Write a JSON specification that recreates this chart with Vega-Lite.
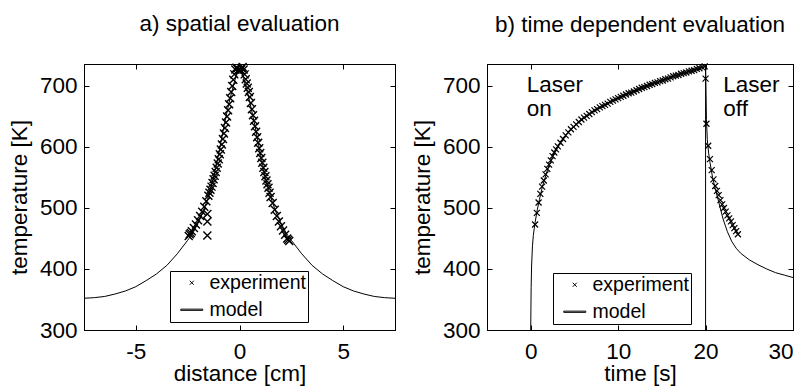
{
  "$schema": "https://vega.github.io/schema/vega-lite/v6.json",
  "padding": {"left": 7, "top": 12, "right": 0, "bottom": 0},
  "spacing": 12,
  "datasets": {
    "spatialModel": [
      {"x": -7.5, "T": 352}, {"x": -7, "T": 353}, {"x": -6.5, "T": 355}, {"x": -6, "T": 359}, {"x": -5.5, "T": 364}, {"x": -5, "T": 371}, {"x": -4.5, "T": 381}, {"x": -4, "T": 392}, {"x": -3.5, "T": 406}, {"x": -3, "T": 425}, {"x": -2.75, "T": 436}, {"x": -2.5, "T": 447}, {"x": -2.25, "T": 459}, {"x": -2, "T": 475}, {"x": -1.75, "T": 494}, {"x": -1.5, "T": 518}, {"x": -1.25, "T": 550}, {"x": -1, "T": 590}, {"x": -0.75, "T": 634}, {"x": -0.5, "T": 673}, {"x": -0.3, "T": 700}, {"x": -0.2, "T": 712}, {"x": -0.1, "T": 724}, {"x": 0, "T": 734},
      {"x": 0.1, "T": 724}, {"x": 0.2, "T": 712}, {"x": 0.3, "T": 700}, {"x": 0.5, "T": 673}, {"x": 0.75, "T": 634}, {"x": 1, "T": 590}, {"x": 1.25, "T": 550}, {"x": 1.5, "T": 518}, {"x": 1.75, "T": 494}, {"x": 2, "T": 475}, {"x": 2.25, "T": 459}, {"x": 2.5, "T": 447}, {"x": 2.75, "T": 436}, {"x": 3, "T": 425}, {"x": 3.5, "T": 406}, {"x": 4, "T": 392}, {"x": 4.5, "T": 381}, {"x": 5, "T": 371}, {"x": 5.5, "T": 364}, {"x": 6, "T": 359}, {"x": 6.5, "T": 355}, {"x": 7, "T": 353}, {"x": 7.5, "T": 352}
    ],
    "spatialExp": [
      {"x": -2.45, "T": 454, "series": "experiment"}, {"x": -2.4, "T": 457, "series": "experiment"}, {"x": -2.35, "T": 459, "series": "experiment"}, {"x": -2.3, "T": 462, "series": "experiment"}, {"x": -2.2, "T": 467, "series": "experiment"}, {"x": -2.1, "T": 473, "series": "experiment"}, {"x": -2.0, "T": 480, "series": "experiment"}, {"x": -1.9, "T": 487, "series": "experiment"}, {"x": -1.8, "T": 494, "series": "experiment"}, {"x": -1.7, "T": 502, "series": "experiment"}, {"x": -1.6, "T": 511, "series": "experiment"}, {"x": -1.5, "T": 520, "series": "experiment"}, {"x": -1.45, "T": 525, "series": "experiment"}, {"x": -1.4, "T": 530, "series": "experiment"}, {"x": -1.35, "T": 535, "series": "experiment"}, {"x": -1.3, "T": 541, "series": "experiment"}, {"x": -1.25, "T": 547, "series": "experiment"}, {"x": -1.2, "T": 553, "series": "experiment"}, {"x": -1.15, "T": 559, "series": "experiment"}, {"x": -1.1, "T": 566, "series": "experiment"}, {"x": -1.05, "T": 573, "series": "experiment"}, {"x": -1.0, "T": 580, "series": "experiment"}, {"x": -0.95, "T": 588, "series": "experiment"}, {"x": -0.9, "T": 596, "series": "experiment"}, {"x": -0.85, "T": 604, "series": "experiment"}, {"x": -0.8, "T": 613, "series": "experiment"}, {"x": -0.75, "T": 622, "series": "experiment"}, {"x": -0.7, "T": 631, "series": "experiment"}, {"x": -0.65, "T": 640, "series": "experiment"}, {"x": -0.6, "T": 650, "series": "experiment"}, {"x": -0.55, "T": 660, "series": "experiment"}, {"x": -0.5, "T": 670, "series": "experiment"}, {"x": -0.45, "T": 680, "series": "experiment"}, {"x": -0.4, "T": 690, "series": "experiment"}, {"x": -0.35, "T": 700, "series": "experiment"}, {"x": -0.3, "T": 710, "series": "experiment"}, {"x": -0.25, "T": 719, "series": "experiment"}, {"x": -0.2, "T": 727, "series": "experiment"}, {"x": -0.15, "T": 730, "series": "experiment"}, {"x": -0.1, "T": 729, "series": "experiment"}, {"x": -0.05, "T": 726, "series": "experiment"}, {"x": 0, "T": 724, "series": "experiment"},
      {"x": -1.55, "T": 490, "series": "experiment"}, {"x": -1.55, "T": 478, "series": "experiment"}, {"x": -1.55, "T": 455, "series": "experiment"},
      {"x": 0.05, "T": 726, "series": "experiment"}, {"x": 0.1, "T": 729, "series": "experiment"}, {"x": 0.15, "T": 731, "series": "experiment"}, {"x": 0.2, "T": 727, "series": "experiment"}, {"x": 0.25, "T": 719, "series": "experiment"}, {"x": 0.3, "T": 711, "series": "experiment"}, {"x": 0.35, "T": 704, "series": "experiment"}, {"x": 0.4, "T": 697, "series": "experiment"}, {"x": 0.45, "T": 690, "series": "experiment"}, {"x": 0.5, "T": 682, "series": "experiment"}, {"x": 0.55, "T": 672, "series": "experiment"}, {"x": 0.6, "T": 662, "series": "experiment"}, {"x": 0.65, "T": 652, "series": "experiment"}, {"x": 0.7, "T": 643, "series": "experiment"}, {"x": 0.75, "T": 634, "series": "experiment"}, {"x": 0.8, "T": 625, "series": "experiment"}, {"x": 0.85, "T": 616, "series": "experiment"}, {"x": 0.9, "T": 607, "series": "experiment"}, {"x": 0.95, "T": 598, "series": "experiment"}, {"x": 1.0, "T": 590, "series": "experiment"}, {"x": 1.05, "T": 582, "series": "experiment"}, {"x": 1.1, "T": 574, "series": "experiment"}, {"x": 1.15, "T": 566, "series": "experiment"}, {"x": 1.2, "T": 559, "series": "experiment"}, {"x": 1.25, "T": 552, "series": "experiment"}, {"x": 1.3, "T": 545, "series": "experiment"}, {"x": 1.35, "T": 539, "series": "experiment"}, {"x": 1.4, "T": 533, "series": "experiment"}, {"x": 1.45, "T": 525, "series": "experiment"}, {"x": 1.5, "T": 518, "series": "experiment"}, {"x": 1.6, "T": 508, "series": "experiment"}, {"x": 1.7, "T": 497, "series": "experiment"}, {"x": 1.8, "T": 487, "series": "experiment"}, {"x": 1.9, "T": 478, "series": "experiment"}, {"x": 2.0, "T": 470, "series": "experiment"}, {"x": 2.1, "T": 463, "series": "experiment"}, {"x": 2.2, "T": 456, "series": "experiment"}, {"x": 2.3, "T": 450, "series": "experiment"}, {"x": 2.35, "T": 448, "series": "experiment"}, {"x": 2.4, "T": 446, "series": "experiment"}
    ],
    "timeModel": [
      {"x": 0, "T": 300}, {"x": 0.05, "T": 370}, {"x": 0.1, "T": 405}, {"x": 0.2, "T": 438}, {"x": 0.3, "T": 455}, {"x": 0.4, "T": 466}, {"x": 0.5, "T": 476}, {"x": 0.75, "T": 497}, {"x": 1, "T": 514}, {"x": 1.25, "T": 530}, {"x": 1.5, "T": 543}, {"x": 2, "T": 566}, {"x": 2.5, "T": 584}, {"x": 3, "T": 598}, {"x": 3.5, "T": 609}, {"x": 4, "T": 619}, {"x": 5, "T": 634}, {"x": 6, "T": 646}, {"x": 7, "T": 656}, {"x": 8, "T": 665}, {"x": 9, "T": 673}, {"x": 10, "T": 680}, {"x": 11, "T": 687}, {"x": 12, "T": 693}, {"x": 13, "T": 699}, {"x": 14, "T": 704}, {"x": 15, "T": 709}, {"x": 16, "T": 714}, {"x": 17, "T": 719}, {"x": 18, "T": 723}, {"x": 19, "T": 728}, {"x": 20, "T": 732},
      {"x": 20.05, "T": 690}, {"x": 20.1, "T": 645}, {"x": 20.2, "T": 612}, {"x": 20.35, "T": 590}, {"x": 20.5, "T": 575}, {"x": 20.8, "T": 550}, {"x": 21.1, "T": 532}, {"x": 21.5, "T": 510}, {"x": 22, "T": 482}, {"x": 22.5, "T": 461}, {"x": 23, "T": 445}, {"x": 23.5, "T": 434}, {"x": 24, "T": 426}, {"x": 25, "T": 415}, {"x": 26, "T": 407}, {"x": 27, "T": 400}, {"x": 28, "T": 394}, {"x": 29, "T": 390}, {"x": 30, "T": 386}
    ],
    "timeExp": [
      {"x": 0.5, "T": 473, "series": "experiment"}, {"x": 0.7, "T": 492, "series": "experiment"}, {"x": 0.9, "T": 509, "series": "experiment"}, {"x": 1.1, "T": 523, "series": "experiment"}, {"x": 1.3, "T": 535, "series": "experiment"}, {"x": 1.5, "T": 545, "series": "experiment"}, {"x": 1.7, "T": 555, "series": "experiment"}, {"x": 1.9, "T": 564, "series": "experiment"}, {"x": 2.1, "T": 571, "series": "experiment"}, {"x": 2.3, "T": 578, "series": "experiment"}, {"x": 2.5, "T": 585, "series": "experiment"}, {"x": 2.7, "T": 591, "series": "experiment"}, {"x": 2.9, "T": 596, "series": "experiment"}, {"x": 3.1, "T": 601, "series": "experiment"}, {"x": 3.4, "T": 607, "series": "experiment"}, {"x": 3.7, "T": 613, "series": "experiment"}, {"x": 4.0, "T": 619, "series": "experiment"}, {"x": 4.3, "T": 624, "series": "experiment"}, {"x": 4.6, "T": 629, "series": "experiment"}, {"x": 4.9, "T": 633, "series": "experiment"}, {"x": 5.2, "T": 637, "series": "experiment"}, {"x": 5.5, "T": 641, "series": "experiment"}, {"x": 5.8, "T": 645, "series": "experiment"}, {"x": 6.1, "T": 648, "series": "experiment"}, {"x": 6.4, "T": 651, "series": "experiment"}, {"x": 6.7, "T": 654, "series": "experiment"}, {"x": 7.0, "T": 657, "series": "experiment"}, {"x": 7.3, "T": 660, "series": "experiment"}, {"x": 7.6, "T": 662, "series": "experiment"}, {"x": 7.9, "T": 665, "series": "experiment"}, {"x": 8.2, "T": 667, "series": "experiment"}, {"x": 8.5, "T": 669, "series": "experiment"}, {"x": 8.8, "T": 671, "series": "experiment"}, {"x": 9.1, "T": 674, "series": "experiment"}, {"x": 9.4, "T": 676, "series": "experiment"}, {"x": 9.7, "T": 678, "series": "experiment"}, {"x": 10.0, "T": 680, "series": "experiment"}, {"x": 10.3, "T": 682, "series": "experiment"}, {"x": 10.6, "T": 684, "series": "experiment"}, {"x": 10.9, "T": 686, "series": "experiment"}, {"x": 11.2, "T": 688, "series": "experiment"}, {"x": 11.5, "T": 689, "series": "experiment"}, {"x": 11.8, "T": 691, "series": "experiment"}, {"x": 12.1, "T": 693, "series": "experiment"}, {"x": 12.4, "T": 695, "series": "experiment"}, {"x": 12.7, "T": 697, "series": "experiment"}, {"x": 13.0, "T": 698, "series": "experiment"}, {"x": 13.3, "T": 700, "series": "experiment"}, {"x": 13.6, "T": 702, "series": "experiment"}, {"x": 13.9, "T": 703, "series": "experiment"}, {"x": 14.2, "T": 705, "series": "experiment"}, {"x": 14.5, "T": 706, "series": "experiment"}, {"x": 14.8, "T": 708, "series": "experiment"}, {"x": 15.1, "T": 709, "series": "experiment"}, {"x": 15.4, "T": 711, "series": "experiment"}, {"x": 15.7, "T": 712, "series": "experiment"}, {"x": 16.0, "T": 714, "series": "experiment"}, {"x": 16.3, "T": 716, "series": "experiment"}, {"x": 16.6, "T": 717, "series": "experiment"}, {"x": 16.9, "T": 718, "series": "experiment"}, {"x": 17.2, "T": 720, "series": "experiment"}, {"x": 17.5, "T": 721, "series": "experiment"}, {"x": 17.8, "T": 722, "series": "experiment"}, {"x": 18.1, "T": 724, "series": "experiment"}, {"x": 18.4, "T": 725, "series": "experiment"}, {"x": 18.7, "T": 726, "series": "experiment"}, {"x": 19.0, "T": 728, "series": "experiment"}, {"x": 19.3, "T": 729, "series": "experiment"}, {"x": 19.6, "T": 731, "series": "experiment"}, {"x": 19.9, "T": 732, "series": "experiment"},
      {"x": 20.0, "T": 712, "series": "experiment"}, {"x": 20.1, "T": 638, "series": "experiment"}, {"x": 20.3, "T": 602, "series": "experiment"}, {"x": 20.5, "T": 580, "series": "experiment"}, {"x": 20.7, "T": 562, "series": "experiment"}, {"x": 20.9, "T": 547, "series": "experiment"}, {"x": 21.1, "T": 536, "series": "experiment"}, {"x": 21.3, "T": 528, "series": "experiment"}, {"x": 21.5, "T": 521, "series": "experiment"}, {"x": 21.7, "T": 513, "series": "experiment"}, {"x": 21.9, "T": 506, "series": "experiment"}, {"x": 22.1, "T": 500, "series": "experiment"}, {"x": 22.3, "T": 494, "series": "experiment"}, {"x": 22.5, "T": 488, "series": "experiment"}, {"x": 22.7, "T": 483, "series": "experiment"}, {"x": 22.9, "T": 478, "series": "experiment"}, {"x": 23.1, "T": 472, "series": "experiment"}, {"x": 23.3, "T": 467, "series": "experiment"}, {"x": 23.5, "T": 462, "series": "experiment"}, {"x": 23.7, "T": 457, "series": "experiment"}
    ],
    "laserOff": [{"x": 20}],
    "notes": [
      {"x": -0.46, "T": 690, "label": "Laser"}, {"x": -0.46, "T": 651, "label": "on"},
      {"x": 22.03, "T": 690, "label": "Laser"}, {"x": 22.03, "T": 651, "label": "off"}
    ]
  },
  "hconcat": [
    {
      "width": 311,
      "height": 266,
      "title": {"text": "a) spatial evaluation", "frame": "group", "offset": 25},
      "layer": [
        {
          "data": {"name": "spatialModel"},
          "mark": {"type": "line", "color": "black", "strokeWidth": 1},
          "encoding": {
            "x": {"field": "x", "type": "quantitative", "scale": {"domain": [-7.5, 7.5], "nice": false, "zero": false}, "axis": {"values": [-5, 0, 5], "title": "distance [cm]", "labelExpr": "replace(datum.label, '−', '-')"}},
            "y": {"field": "T", "type": "quantitative", "scale": {"domain": [300, 736], "nice": false, "zero": false}, "axis": {"values": [300, 400, 500, 600, 700], "title": "temperature [K]"}}
          }
        },
        {
          "data": {"name": "spatialExp"},
          "mark": {"type": "point", "filled": false, "color": "black", "strokeWidth": 1.4, "size": 64, "opacity": 1},
          "encoding": {
            "x": {"field": "x", "type": "quantitative", "axis": {"orient": "top", "labels": false, "title": null, "values": [-5, 0, 5]}},
            "y": {"field": "T", "type": "quantitative", "axis": {"orient": "right", "labels": false, "title": null, "values": [300, 400, 500, 600, 700]}},
            "shape": {
              "field": "series", "type": "nominal",
              "scale": {"domain": ["experiment", "model"], "range": ["M-1,-1L1,1M-1,1L1,-1", "M-5.5,-0.3L5.5,-0.3L5.5,0.3L-5.5,0.3Z"]},
              "legend": {"title": null, "orient": "none", "legendX": 86, "legendY": 207}
            }
          }
        }
      ],
      "resolve": {"axis": {"x": "independent", "y": "independent"}}
    },
    {
      "width": 306,
      "height": 266,
      "title": {"text": "b) time dependent evaluation", "frame": "group", "offset": 25},
      "layer": [
        {
          "data": {"name": "timeModel"},
          "mark": {"type": "line", "color": "black", "strokeWidth": 1, "clip": true},
          "encoding": {
            "x": {"field": "x", "type": "quantitative", "scale": {"domain": [-5, 30], "nice": false, "zero": false}, "axis": {"values": [0, 10, 20, 30], "title": "time [s]"}},
            "y": {"field": "T", "type": "quantitative", "scale": {"domain": [300, 736], "nice": false, "zero": false}, "axis": {"values": [300, 400, 500, 600, 700], "title": "temperature [K]"}}
          }
        },
        {
          "data": {"name": "laserOff"},
          "mark": {"type": "rule", "color": "black", "strokeWidth": 1},
          "encoding": {
            "x": {"field": "x", "type": "quantitative", "axis": null}
          }
        },
        {
          "data": {"name": "timeExp"},
          "mark": {"type": "point", "filled": false, "color": "black", "strokeWidth": 1.2, "size": 36, "opacity": 1},
          "encoding": {
            "x": {"field": "x", "type": "quantitative", "axis": {"orient": "top", "labels": false, "title": null, "values": [0, 10, 20, 30]}},
            "y": {"field": "T", "type": "quantitative", "axis": {"orient": "right", "labels": false, "title": null, "values": [300, 400, 500, 600, 700]}},
            "shape": {
              "field": "series", "type": "nominal",
              "scale": {"domain": ["experiment", "model"], "range": ["M-1,-1L1,1M-1,1L1,-1", "M-5.5,-0.3L5.5,-0.3L5.5,0.3L-5.5,0.3Z"]},
              "legend": {"title": null, "orient": "none", "legendX": 66, "legendY": 209}
            }
          }
        },
        {
          "data": {"name": "notes"},
          "mark": {"type": "text", "align": "left", "baseline": "alphabetic", "fontSize": 22.5, "color": "black", "font": "Liberation Sans"},
          "encoding": {
            "x": {"field": "x", "type": "quantitative", "axis": null},
            "y": {"field": "T", "type": "quantitative", "axis": null},
            "text": {"field": "label"}
          }
        }
      ],
      "resolve": {"axis": {"x": "independent", "y": "independent"}}
    }
  ],
  "resolve": {"scale": {"shape": "independent"}, "legend": {"shape": "independent"}},
  "config": {
    "font": "Liberation Sans",
    "background": "white",
    "view": {"stroke": "black", "strokeWidth": 1},
    "title": {"font": "Liberation Sans", "fontSize": 22.5, "fontWeight": "normal", "color": "black", "anchor": "middle"},
    "axis": {
      "grid": false,
      "domainColor": "black",
      "domainWidth": 1,
      "tickColor": "black",
      "tickSize": -5,
      "tickWidth": 1,
      "labelFont": "Liberation Sans",
      "labelFontSize": 22.5,
      "labelColor": "black",
      "titleFont": "Liberation Sans",
      "titleFontSize": 22.5,
      "titleFontWeight": "normal",
      "titleColor": "black"
    },
    "axisX": {"labelPadding": 15, "titlePadding": 0},
    "axisY": {"labelPadding": 12, "titlePadding": 8},
    "legend": {
      "strokeColor": "black",
      "fillColor": "white",
      "padding": 2,
      "cornerRadius": 0,
      "symbolOffset": 10,
      "labelOffset": 8,
      "rowPadding": 6,
      "labelFont": "Liberation Sans",
      "labelFontSize": 19.5,
      "labelColor": "black",
      "symbolSize": 16,
      "symbolStrokeColor": "black",
      "symbolFillColor": "black",
      "symbolStrokeWidth": 1
    }
  }
}
